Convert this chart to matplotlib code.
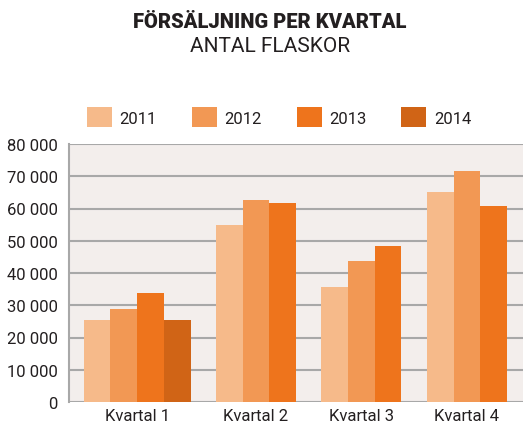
import matplotlib
matplotlib.use("Agg")
import matplotlib.pyplot as plt
from matplotlib.patches import Patch
from matplotlib.ticker import FuncFormatter

quarters = ["Kvartal 1", "Kvartal 2", "Kvartal 3", "Kvartal 4"]
years = ["2011", "2012", "2013", "2014"]
sales_2011 = [25400, 54800, 35700, 65000]
sales_2012 = [28700, 62600, 43600, 71500]
sales_2013 = [33800, 61700, 48300, 60800]
sales_2014 = [25400, None, None, None]

colors = ["#F6BA8A", "#F29854", "#EE741C", "#D06416"]
series = [sales_2011, sales_2012, sales_2013, sales_2014]

plt.rcParams["font.family"] = ["Roboto", "DejaVu Sans"]
text_color = "#231F20"

fig = plt.figure(figsize=(5.23, 4.27), dpi=100)
ax = fig.add_axes([69 / 523, 24 / 427, 454 / 523, 258 / 427])
ax.set_facecolor("#F3EEEC")

# group centres, in bar widths
centers = [2.55, 7.0, 10.95, 14.9]
width = 1.0
for qi, c in enumerate(centers):
    vals = [(s[qi], colors[si]) for si, s in enumerate(series) if s[qi] is not None]
    n = len(vals)
    for k, (v, col) in enumerate(vals):
        ax.bar(c + (k - (n - 1) / 2) * width, v, width=width, color=col,
               edgecolor="none", zorder=3)

ax.set_xlim(0, 17)
ax.set_ylim(0, 80000)
ax.set_yticks(range(0, 80001, 10000))
ax.yaxis.set_major_formatter(FuncFormatter(lambda v, p: f"{int(v):,}".replace(",", " ")))
ax.grid(axis="y", color="#A8A8A8", linewidth=1.5, zorder=1)
ax.set_xticks(centers)
ax.set_xticklabels(quarters)
ax.tick_params(axis="both", length=0, labelsize=12, colors=text_color)
ax.tick_params(axis="y", pad=8)
ax.tick_params(axis="x", pad=4)
for side in ["top", "right", "bottom"]:
    ax.spines[side].set_visible(False)
ax.spines["left"].set_color("#A8A8A8")
ax.spines["left"].set_linewidth(1.5)

fig.text(270 / 523, 1 - 22 / 427, "FÖRSÄLJNING PER KVARTAL", ha="center", va="center",
         fontsize=14.5, fontweight="black", color=text_color)
fig.text(270 / 523, 1 - 47 / 427, "ANTAL FLASKOR", ha="center", va="center",
         fontsize=15, color=text_color)

handles = [Patch(facecolor=c, edgecolor="none") for c in colors]
fig.legend(handles, years, loc="center", bbox_to_anchor=(279 / 523, 1 - 118 / 427),
           ncol=4, frameon=False, fontsize=12, handlelength=1.5, handleheight=1.4,
           handletextpad=0.45, columnspacing=2.1, labelcolor=text_color)

fig.savefig("out.png", dpi=100)
